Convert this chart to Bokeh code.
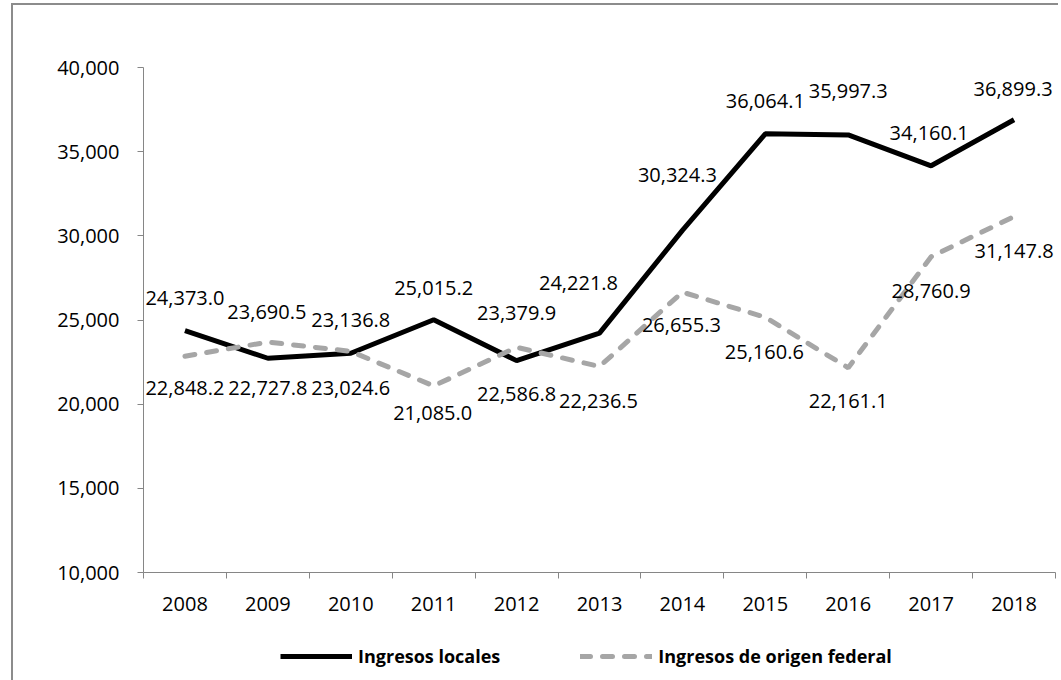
from bokeh.plotting import figure
from bokeh.layouts import column
from bokeh.models import (ColumnDataSource, Range1d, FixedTicker,
                          NumeralTickFormatter, Legend, LegendItem)
from bokeh.core.properties import value
from bokeh.embed import file_html
from bokeh.resources import INLINE

# ---- data -------------------------------------------------------------
years = ["2008", "2009", "2010", "2011", "2012", "2013",
         "2014", "2015", "2016", "2017", "2018"]
ingresos_locales = [24373.0, 22727.8, 23024.6, 25015.2, 22586.8, 24221.8,
                    30324.3, 36064.1, 35997.3, 34160.1, 36899.3]
ingresos_federal = [22848.2, 23690.5, 23136.8, 21085.0, 23379.9, 22236.5,
                    26655.3, 25160.6, 22161.1, 28760.9, 31147.8]
y_ticks = [10000, 15000, 20000, 25000, 30000, 35000, 40000]
series_names = ["Ingresos locales", "Ingresos de origen federal"]

# label offsets in screen pixels (layout only)
loc_dx = [0, 0, 0, 0, 0, -21, -5, 0, 0, -2, -1]
loc_dy = [-33, 30, 35, -32, 33, -50, -55, -33, -44, -33, -31]
fed_dx = [0, -1, 0, -1, 0, -1, -1, -1, 0, 0, 0]
fed_dy = [32, -30, -31, 27, -34, 34, 33, 35, 33, 34, 34]

FONT = "Open Sans"
AXIS_GRAY = "#868686"
LOC_STYLE = dict(line_color="black", line_width=5)
FED_STYLE = dict(line_color="#a6a6a6", line_width=5, line_dash="10 12", line_cap="round")

xs = list(range(len(years)))

p = figure(frame_width=912, frame_height=505, output_backend="svg", toolbar_location=None,
           x_range=Range1d(-0.5, len(years) - 0.5), y_range=Range1d(10000, 40000),
           min_border_left=130, min_border_right=3, min_border_top=62,
           min_border_bottom=60)
p.outline_line_color = None
p.grid.visible = False
p.background_fill_color = "white"
p.border_fill_color = "white"

# x axis: labels at category centers, tick marks at boundaries
p.xaxis.ticker = FixedTicker(ticks=xs, minor_ticks=[i - 0.5 for i in range(len(years) + 1)])
p.xaxis.major_label_overrides = {i: y for i, y in zip(xs, years)}
p.xaxis.major_tick_out = 0
p.xaxis.major_tick_in = 0
p.xaxis.minor_tick_out = 6
p.xaxis.minor_tick_in = 0
p.xaxis.minor_tick_line_color = AXIS_GRAY
p.xaxis.axis_line_color = AXIS_GRAY
p.xaxis.major_label_standoff = 18
p.xaxis.major_label_text_font = FONT
p.xaxis.major_label_text_font_size = "20px"
p.xaxis.major_label_text_color = "black"

# y axis
p.yaxis.ticker = FixedTicker(ticks=y_ticks, minor_ticks=[])
p.yaxis.formatter = NumeralTickFormatter(format="0,0")
p.yaxis.major_tick_out = 6
p.yaxis.major_tick_in = 0
p.yaxis.major_tick_line_color = AXIS_GRAY
p.yaxis.axis_line_color = AXIS_GRAY
p.yaxis.major_label_standoff = 18
p.yaxis.major_label_text_font = FONT
p.yaxis.major_label_text_font_size = "20px"
p.yaxis.major_label_text_color = "black"

p.line(xs, ingresos_locales, **LOC_STYLE)
p.line(xs, ingresos_federal, **FED_STYLE)

labels = ColumnDataSource(dict(
    x=xs + xs,
    y=ingresos_locales + ingresos_federal,
    text=[f"{v:,.1f}" for v in ingresos_locales + ingresos_federal],
    dx=loc_dx + fed_dx,
    dy=loc_dy + fed_dy,
))
p.text(x="x", y="y", text="text", x_offset="dx", y_offset="dy", source=labels,
       text_font=value(FONT), text_font_size="20px", text_align="center",
       text_baseline="middle", text_color="black")

# ---- legend strip: same series, drawn out of view, only the legend shows --
lg = figure(width=1045, height=48, output_backend="svg", toolbar_location=None,
            x_range=Range1d(-0.5, len(years) - 0.5), y_range=Range1d(0, 1),
            x_axis_location=None, y_axis_location=None,
            min_border=0)
lg.outline_line_color = None
lg.grid.visible = False
lg.border_fill_color = "white"
lr1 = lg.line(xs, ingresos_locales, **LOC_STYLE)
lr2 = lg.line(xs, ingresos_federal, **FED_STYLE)

legend = Legend(items=[LegendItem(label=series_names[0], renderers=[lr1]),
                       LegendItem(label=series_names[1], renderers=[lr2])],
                orientation="horizontal", location=(137, 12))
legend.border_line_color = None
legend.background_fill_alpha = 0
legend.label_text_font = FONT
legend.label_text_font_style = "bold"
legend.label_text_font_size = "18px"
legend.label_text_color = "black"
legend.glyph_width = 72
legend.glyph_height = 24
legend.label_height = 24
legend.label_standoff = 6
legend.spacing = 80
legend.padding = 0
legend.margin = 0
lg.add_layout(legend)

layout = column(p, lg, spacing=0,
                styles={"border-left": "2px solid #8c8c8c",
                        "border-top": "2px solid #8c8c8c",
                        "margin-left": "11px", "margin-top": "3px",
                        "background-color": "white"})

open("out.html", "w").write(file_html(layout, INLINE))
